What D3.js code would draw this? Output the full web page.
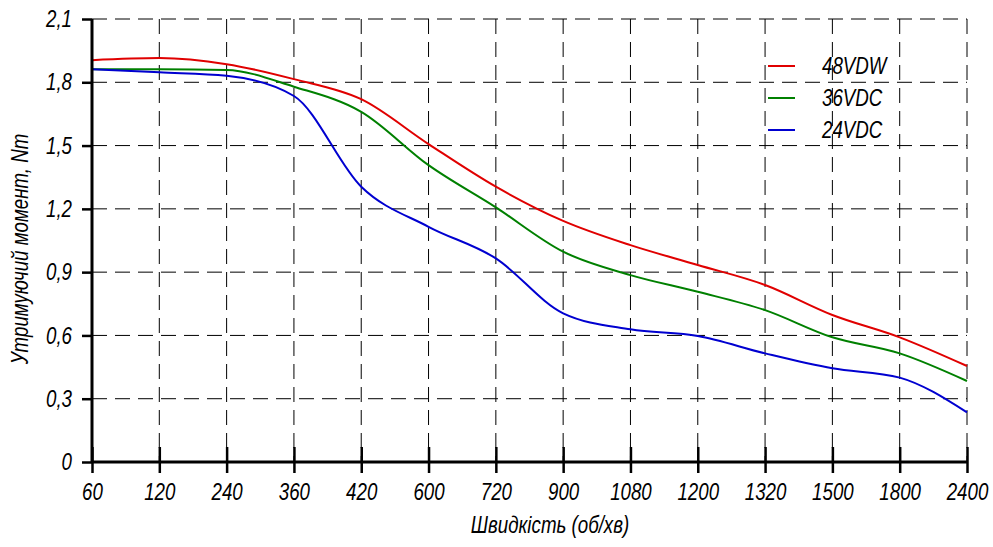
<!DOCTYPE html>
<html><head><meta charset="utf-8">
<script src="https://cdn.jsdelivr.net/npm/d3@7/dist/d3.min.js"></script>
<style>
body{margin:0;background:#fff;}
text{font-family:"Liberation Sans","DejaVu Sans",sans-serif;font-style:italic;fill:#000;font-weight:normal;}
</style></head><body>
<svg id="c" width="993" height="547"></svg>
<script>
const categories = ["60","120","240","360","420","600","720","900","1080","1200","1320","1500","1800","2400"];
const yTicks = [0,0.3,0.6,0.9,1.2,1.5,1.8,2.1];
const seriesNames = ["48VDW","36VDC","24VDC"];
const seriesColors = ["#e00000","#008000","#0000d0"];
const v48 = [1.905,1.915,1.886,1.815,1.72,1.507,1.305,1.143,1.028,0.934,0.839,0.697,0.591,0.455];
const v36 = [1.862,1.862,1.858,1.779,1.66,1.407,1.207,0.997,0.886,0.807,0.720,0.591,0.515,0.384];
const v24 = [1.862,1.847,1.831,1.735,1.305,1.115,0.965,0.705,0.629,0.597,0.515,0.444,0.400,0.235];
const seriesValues = [v48,v36,v24];

const SQ = 0.78; // horizontal squeeze for a narrow technical look
const svg = d3.select("#c");
const L=92, R=967, T=19, B=462;
const x = d3.scalePoint().domain(categories).range([L,R]);
const y = d3.scaleLinear().domain([0,2.1]).range([B,T]);

// grid
const g = svg.append("g");
g.selectAll(".hg").data(yTicks.filter(d=>d>0)).enter().append("line")
  .attr("x1",L).attr("x2",R).attr("y1",d=>y(d)).attr("y2",d=>y(d))
  .attr("stroke","#000").attr("stroke-width",1).attr("stroke-dasharray","15,8");
g.selectAll(".vg").data(categories.slice(1)).enter().append("line")
  .attr("x1",d=>x(d)).attr("x2",d=>x(d)).attr("y1",T).attr("y2",B)
  .attr("stroke","#000").attr("stroke-width",1).attr("stroke-dasharray","15,8");

// lines
const line = d3.line().x((d,i)=>x(categories[i])).y(d=>y(d)).curve(d3.curveMonotoneX);
seriesValues.forEach((vals,k)=>{
  svg.append("path").datum(vals).attr("d",line).attr("fill","none")
    .attr("stroke",seriesColors[k]).attr("stroke-width",2);
});

// axes
const xa = svg.append("g").attr("transform",`translate(0,${B})`)
  .call(d3.axisBottom(x).tickSize(11).tickPadding(10));
xa.attr("font-family",null).attr("font-size",null);
xa.select(".domain").attr("stroke-width",3).attr("d",`M${L},0H${R}`);
xa.selectAll(".tick line").attr("y1",-15).attr("y2",11).attr("stroke-width",2.5);
xa.selectAll(".tick text").attr("font-size",24).attr("dy","0.72em")
  .attr("transform",`scale(${SQ},1)`);

const ya = svg.append("g").attr("transform",`translate(${L},0)`)
  .call(d3.axisLeft(y).tickValues(yTicks).tickSize(10).tickPadding(10)
    .tickFormat(d=>d===0?"0":d3.format(".1f")(d).replace(".",",")));
ya.attr("font-family",null).attr("font-size",null);
ya.select(".domain").attr("stroke-width",3).attr("d",`M0,${T}V${B}`);
ya.selectAll(".tick line").attr("stroke-width",2.5);
ya.selectAll(".tick text").attr("font-size",24)
  .attr("x",-20/SQ).attr("transform",`scale(${SQ},1)`);

// axis titles
svg.append("text").attr("transform",`translate(550,533) scale(${SQ},1)`).attr("text-anchor","middle")
  .attr("font-size",24).text("Швидкість (об/хв)");
svg.append("text").attr("transform",`translate(28,249) rotate(-90) scale(${SQ},1)`).attr("text-anchor","middle")
  .attr("font-size",24).text("Утримуючий момент, Nm");

// legend
const lg = svg.append("g");
seriesNames.forEach((n,k)=>{
  const yy = 66 + k*32;
  lg.append("line").attr("x1",768).attr("x2",795).attr("y1",yy).attr("y2",yy)
    .attr("stroke",seriesColors[k]).attr("stroke-width",2);
  lg.append("text").attr("transform",`translate(822,${yy+8}) scale(${SQ},1)`)
    .attr("font-size",24).text(n);
});
</script>
</body></html>
